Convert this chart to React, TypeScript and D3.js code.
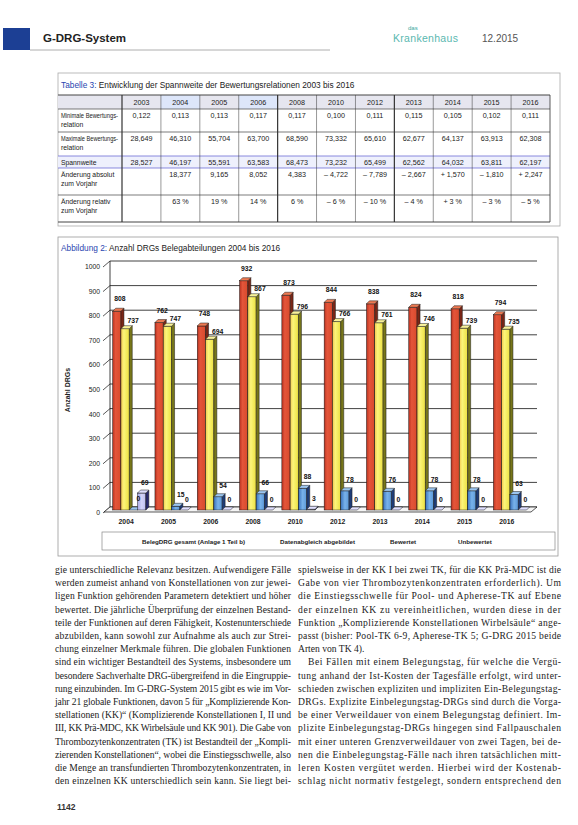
import React from 'react';
import * as d3 from 'd3';

// ---------- chart data ----------
const years = ['2004', '2005', '2006', '2008', '2010', '2012', '2013', '2014', '2015', '2016'];
const belegGesamt = [808, 762, 748, 932, 873, 844, 838, 824, 818, 794];
const abgebildet = [737, 747, 694, 867, 796, 766, 761, 746, 739, 735];
const bewertet = [0, 15, 54, 66, 88, 78, 76, 78, 78, 63];
const unbewertet = [69, 0, 0, 0, 3, 0, 0, 0, 0, 0];
const seriesNames = ['BelegDRG gesamt (Anlage 1 Teil b)', 'Datenabgleich abgebildet', 'Bewertet', 'Unbewertet'];
const yTicks = [0, 100, 200, 300, 400, 500, 600, 700, 800, 900, 1000];

// ---------- table data ----------
const tableYears = ['2003', '2004', '2005', '2006', '2008', '2010', '2012', '2013', '2014', '2015', '2016'];
const minBR = ['0,122', '0,113', '0,113', '0,117', '0,117', '0,100', '0,111', '0,115', '0,105', '0,102', '0,111'];
const maxBR = ['28,649', '46,310', '55,704', '63,700', '68,590', '73,332', '65,610', '62,677', '64,137', '63,913', '62,308'];
const spannweite = ['28,527', '46,197', '55,591', '63,583', '68,473', '73,232', '65,499', '62,562', '64,032', '63,811', '62,197'];
const aendAbs = ['', '18,377', '9,165', '8,052', '4,383', '– 4,722', '– 7,789', '– 2,667', '+ 1,570', '– 1,810', '+ 2,247'];
const aendRel = ['', '63 %', '19 %', '14 %', '6 %', '– 6 %', '– 10 %', '– 4 %', '+ 3 %', '– 3 %', '– 5 %'];
const rowLabels = [
  ['Minimale Bewertungs-', 'relation'],
  ['Maximale Bewertungs-', 'relation'],
  ['Spannweite'],
  ['Änderung absolut', 'zum Vorjahr'],
  ['Änderung relativ', 'zum Vorjahr'],
];

// ---------- body text ----------
const leftLines = [
  'gie unterschiedliche Relevanz besitzen. Aufwendigere Fälle',
  'werden zumeist anhand von Konstellationen von zur jewei-',
  'ligen Funktion gehörenden Parametern detektiert und höher',
  'bewertet. Die jährliche Überprüfung der einzelnen Bestand-',
  'teile der Funktionen auf deren Fähigkeit, Kostenunterschiede',
  'abzubilden, kann sowohl zur Aufnahme als auch zur Strei-',
  'chung einzelner Merkmale führen. Die globalen Funktionen',
  'sind ein wichtiger Bestandteil des Systems, insbesondere um',
  'besondere Sachverhalte DRG-übergreifend in die Eingruppie-',
  'rung einzubinden. Im G-DRG-System 2015 gibt es wie im Vor-',
  'jahr 21 globale Funktionen, davon 5 für „Komplizierende Kon-',
  'stellationen (KK)“ (Komplizierende Konstellationen I, II und',
  'III, KK Prä-MDC, KK Wirbelsäule und KK 901). Die Gabe von',
  'Thrombozytenkonzentraten (TK) ist Bestandteil der „Kompli-',
  'zierenden Konstellationen“, wobei die Einstiegsschwelle, also',
  'die Menge an transfundierten Thrombozytenkonzentraten, in',
  'den einzelnen KK unterschiedlich sein kann. Sie liegt bei-',
];
const rightLines = [
  'spielsweise in der KK I bei zwei TK, für die KK Prä-MDC ist die',
  'Gabe von vier Thrombozytenkonzentraten erforderlich). Um',
  'die Einstiegsschwelle für Pool- und Apherese-TK auf Ebene',
  'der einzelnen KK zu vereinheitlichen, wurden diese in der',
  'Funktion „Komplizierende Konstellationen Wirbelsäule“ ange-',
  'passt (bisher: Pool-TK 6-9, Apherese-TK 5; G-DRG 2015 beide',
  'Arten von TK 4).',
  'Bei Fällen mit einem Belegungstag, für welche die Vergü-',
  'tung anhand der Ist-Kosten der Tagesfälle erfolgt, wird unter-',
  'schieden zwischen expliziten und impliziten Ein-Belegungstag-',
  'DRGs. Explizite Einbelegungstag-DRGs sind durch die Vorga-',
  'be einer Verweildauer von einem Belegungstag definiert. Im-',
  'plizite Einbelegungstag-DRGs hingegen sind Fallpauschalen',
  'mit einer unteren Grenzverweildauer von zwei Tagen, bei de-',
  'nen die Einbelegungstag-Fälle nach ihren tatsächlichen mitt-',
  'leren Kosten vergütet werden. Hierbei wird der Kostenab-',
  'schlag nicht normativ festgelegt, sondern entsprechend den',
];

const SANS = 'Liberation Sans, Arial, sans-serif';
const NARROW = 'Liberation Sans Narrow, Liberation Sans, Arial, sans-serif';
const SERIF = 'Liberation Serif, Times New Roman, serif';

function Bar3D({ x0, w, top, bottom, dx, dy, grad, side, topC }: any) {
  const h = Math.max(0, bottom - top);
  return (
    <g stroke="#1a1a1a" strokeWidth={0.5}>
      {h > 0 && <rect x={x0} y={top} width={w} height={h} fill={`url(#${grad})`} />}
      {h > 0 && (
        <polygon
          points={`${x0 + w},${top} ${x0 + w + dx},${top - dy} ${x0 + w + dx},${bottom - dy} ${x0 + w},${bottom}`}
          fill={side}
        />
      )}
      <polygon
        points={`${x0},${top} ${x0 + dx},${top - dy} ${x0 + w + dx},${top - dy} ${x0 + w},${top}`}
        fill={topC}
      />
    </g>
  );
}

export default function App() {
  // chart scales
  const x = d3.scaleBand<string>().domain(years).range([105, 528]);
  const yF = d3.scaleLinear().domain([0, 1000]).range([512, 266]);
  const yB = d3.scaleLinear().domain([0, 1000]).range([510, 264]);
  const wallDx = 6, wallDy = 5;
  const bw = 8.3, bdx = 3, bdy = 3;
  const series = [belegGesamt, abgebildet, bewertet, unbewertet];
  const styles = [
    { grad: 'gRed', side: '#7a2616', topC: '#ee7a52' },
    { grad: 'gYel', side: '#77761a', topC: '#f9f29a' },
    { grad: 'gBlu', side: '#1e3c78', topC: '#9cc6f0' },
    { grad: 'gLav', side: '#2a2a70', topC: '#e0e0ff' },
  ];
  const labelOff = [
    { dx: 3, dy: -10 },
    { dx: 8, dy: -5.5 },
    { dx: 5, dy: -9 },
    { dx: 3, dy: -8 },
  ];

  // table scales
  const colX = d3.scaleBand<string>().domain(tableYears).range([122, 550]);
  const rowTops = [95, 109, 132, 156, 168, 195, 222];
  const tableRows = [minBR, maxBR, spannweite, aendAbs, aendRel];

  const lineY = d3.scaleLinear().domain([0, 16]).range([573, 784.2]);

  return (
    <svg
      width={578}
      height={825}
      viewBox="0 0 578 825"
      style={{ position: 'absolute', left: 0, top: 0, background: '#fff' }}
    >
      <defs>
        <linearGradient id="gRed" x1="0" x2="1" y1="0" y2="0">
          <stop offset="0" stopColor="#b83220" />
          <stop offset="0.35" stopColor="#e4553a" />
          <stop offset="1" stopColor="#d84a2c" />
        </linearGradient>
        <linearGradient id="gYel" x1="0" x2="1" y1="0" y2="0">
          <stop offset="0" stopColor="#f2c850" />
          <stop offset="0.35" stopColor="#fbf57a" />
          <stop offset="1" stopColor="#ece040" />
        </linearGradient>
        <linearGradient id="gBlu" x1="0" x2="1" y1="0" y2="0">
          <stop offset="0" stopColor="#3a72bc" />
          <stop offset="0.5" stopColor="#78b2ea" />
          <stop offset="1" stopColor="#5c98d8" />
        </linearGradient>
        <linearGradient id="gLav" x1="0" x2="1" y1="0" y2="0">
          <stop offset="0" stopColor="#a8a8e6" />
          <stop offset="0.5" stopColor="#d4d4f8" />
          <stop offset="1" stopColor="#bcbcf0" />
        </linearGradient>
      </defs>

      {/* ---------- page header ---------- */}
      <rect x={3} y={28} width={27} height={22} fill="#1c3f94" />
      <text x={43} y={42} fontFamily={SANS} fontWeight="bold" fontSize={11.5} fill="#222">
        G-DRG-System
      </text>
      <line x1={30} x2={330} y1={50} y2={50} stroke="#999" strokeWidth={0.8} />
      <text x={408} y={30} fontFamily={SANS} fontSize={6} fill="#3aa8a0">das</text>
      <text x={393} y={42} fontFamily={SANS} fontSize={10.5} fill="#5ab8b0" letterSpacing={0.3}>
        Krankenhaus
      </text>
      <text x={482} y={42} fontFamily={SANS} fontSize={10} fill="#555">
        12.2015
      </text>

      {/* ---------- table ---------- */}
      <rect x={58} y={73} width={502} height={153} fill="#fff" stroke="#aaa" strokeWidth={0.8} />
      <text x={61} y={88} fontFamily={SANS} fontSize={8.3} fill="#222">
        <tspan fill="#2a46b0">Tabelle 3:</tspan> Entwicklung der Spannweite der Bewertungsrelationen 2003 bis 2016
      </text>
      <rect x={58} y={rowTops[0]} width={492} height={rowTops[1] - rowTops[0]} fill="#e6e6ef" />
      {tableYears.map((yr, i) =>
        i === 1 || i === 3 ? (
          <rect key={'hb' + yr} x={colX(yr)} y={rowTops[0]} width={colX.bandwidth()} height={rowTops[1] - rowTops[0]} fill="#dde6fa" />
        ) : null
      )}
      <rect x={58} y={rowTops[3]} width={492} height={rowTops[4] - rowTops[3]} fill="#eef0fc" />
      {rowTops.map((t, i) => (
        <line
          key={'rl' + i}
          x1={58}
          x2={550}
          y1={t}
          y2={t}
          stroke={i === 3 || i === 4 ? '#5a5ad0' : '#444'}
          strokeWidth={i === 0 || i === 6 ? 1 : 0.7}
        />
      ))}
      {tableYears.map((yr, i) => (
        <line
          key={'vl' + yr}
          x1={colX(yr)}
          x2={colX(yr)}
          y1={rowTops[0]}
          y2={rowTops[6]}
          stroke="#333"
          strokeWidth={i === 0 || i === 4 || i === 7 ? 1.2 : 0.5}
        />
      ))}
      <line x1={550} x2={550} y1={rowTops[0]} y2={rowTops[6]} stroke="#333" strokeWidth={0.8} />
      {tableYears.map((yr) => (
        <text key={'th' + yr} x={(colX(yr) as number) + colX.bandwidth() / 2} y={rowTops[0] + 9.5} textAnchor="middle" fontFamily={NARROW} fontSize={7.2} fill="#222">
          {yr}
        </text>
      ))}
      {rowLabels.map((lab, r) => (
        <g key={'lab' + r}>
          {lab.map((l, k) => (
            <text
              key={k}
              x={61}
              y={rowTops[r + 1] + 9 + k * 8.5}
              fontFamily={NARROW}
              fontSize={6.8}
              fill="#222"
              {...(l.length > 16 ? { textLength: 57, lengthAdjust: 'spacingAndGlyphs' } : {})}
            >
              {l}
            </text>
          ))}
        </g>
      ))}
      {tableRows.map((row, r) =>
        row.map((v, i) => (
          <text
            key={'c' + r + '-' + i}
            x={(colX(tableYears[i]) as number) + colX.bandwidth() / 2}
            y={rowTops[r + 1] + 9}
            textAnchor="middle"
            fontFamily={NARROW}
            fontSize={7.2}
            fill="#222"
          >
            {v}
          </text>
        ))
      )}

      {/* ---------- chart frame ---------- */}
      <rect x={58} y={237} width={500} height={319} fill="#fff" stroke="#999" strokeWidth={0.8} />
      <text x={61} y={251} fontFamily={SANS} fontSize={8.3} fill="#222">
        <tspan fill="#2a46b0">Abbildung 2:</tspan> Anzahl DRGs Belegabteilungen 2004 bis 2016
      </text>

      {/* back wall gridlines */}
      {yTicks.map((t) => (
        <g key={'g' + t}>
          <line x1={104 + wallDx} x2={531 + wallDx} y1={yF(t) - wallDy} y2={yF(t) - wallDy} stroke="#111" strokeWidth={0.8} />
          <line x1={103} x2={104 + wallDx} y1={yF(t) + 1} y2={yF(t) - wallDy} stroke="#111" strokeWidth={0.7} />
          <text x={100} y={yF(t) + 3} textAnchor="end" fontFamily={SANS} fontSize={6.8} fill="#222">
            {t}
          </text>
        </g>
      ))}
      <line x1={104 + wallDx} x2={104 + wallDx} y1={yF(0) - wallDy} y2={yF(1000) - wallDy} stroke="#111" strokeWidth={0.8} />
      {/* floor */}
      <polygon
        points={`104,${yF(0)} 531,${yF(0)} ${531 + wallDx},${yF(0) - wallDy} ${104 + wallDx},${yF(0) - wallDy}`}
        fill="#f4f4f4"
        stroke="#111"
        strokeWidth={0.7}
      />
      <text
        transform={`translate(70,${390}) rotate(-90)`}
        textAnchor="middle"
        fontFamily={SANS}
        fontWeight="bold"
        fontSize={7}
        fill="#222"
      >
        Anzahl DRGs
      </text>

      {/* bars */}
      {years.map((yr, i) => {
        const c = (x(yr) as number) + x.bandwidth() / 2;
        return (
          <g key={'grp' + yr}>
            {series.map((s, k) => (
              <Bar3D
                key={k}
                x0={c - 13.5 + k * bw}
                w={bw}
                top={yB(s[i])}
                bottom={yB(0)}
                dx={bdx}
                dy={bdy}
                {...styles[k]}
              />
            ))}
          </g>
        );
      })}

      {/* value labels */}
      {years.map((yr, i) => {
        const c = (x(yr) as number) + x.bandwidth() / 2;
        return (
          <g key={'lbl' + yr}>
            {series.map((s, k) => (
              <text
                key={k}
                x={c - 13.5 + k * bw + bw / 2 + labelOff[k].dx}
                y={yB(s[i]) + labelOff[k].dy}
                textAnchor="middle"
                fontFamily={SANS}
                fontWeight="bold"
                fontSize={6.8}
                fill="#111"
              >
                {s[i]}
              </text>
            ))}
          </g>
        );
      })}

      {/* x axis labels */}
      {years.map((yr) => (
        <text key={'xl' + yr} x={(x(yr) as number) + x.bandwidth() / 2} y={523.5} textAnchor="middle" fontFamily={SANS} fontWeight="bold" fontSize={6.8} fill="#222">
          {yr}
        </text>
      ))}

      {/* legend */}
      <rect x={102} y={532} width={453} height={18} fill="#fff" stroke="#888" strokeWidth={0.7} />
      {seriesNames.map((n, k) => (
        <text key={'lg' + k} x={[142, 280, 390, 458][k]} y={544} fontFamily={SANS} fontWeight="bold" fontSize={6.2} fill="#222">
          {n}
        </text>
      ))}

      {/* ---------- body text ---------- */}
      {leftLines.map((l, i) => (
        <text
          key={'L' + i}
          x={55}
          y={lineY(i)}
          fontFamily={SERIF}
          fontSize={9.6}
          fill="#222"
          textLength={236}
          lengthAdjust="spacing"
        >
          {l}
        </text>
      ))}
      {rightLines.map((l, i) => {
        const last = i === 6;
        const indent = i === 7 ? 10 : 0;
        return (
          <text
            key={'R' + i}
            x={298 + indent}
            y={lineY(i)}
            fontFamily={SERIF}
            fontSize={9.6}
            fill="#222"
            {...(last ? {} : { textLength: 263 - indent, lengthAdjust: 'spacing' })}
          >
            {l}
          </text>
        );
      })}
      <text x={57} y={810} fontFamily={SANS} fontWeight="bold" fontSize={8.5} fill="#333">
        1142
      </text>
    </svg>
  );
}
